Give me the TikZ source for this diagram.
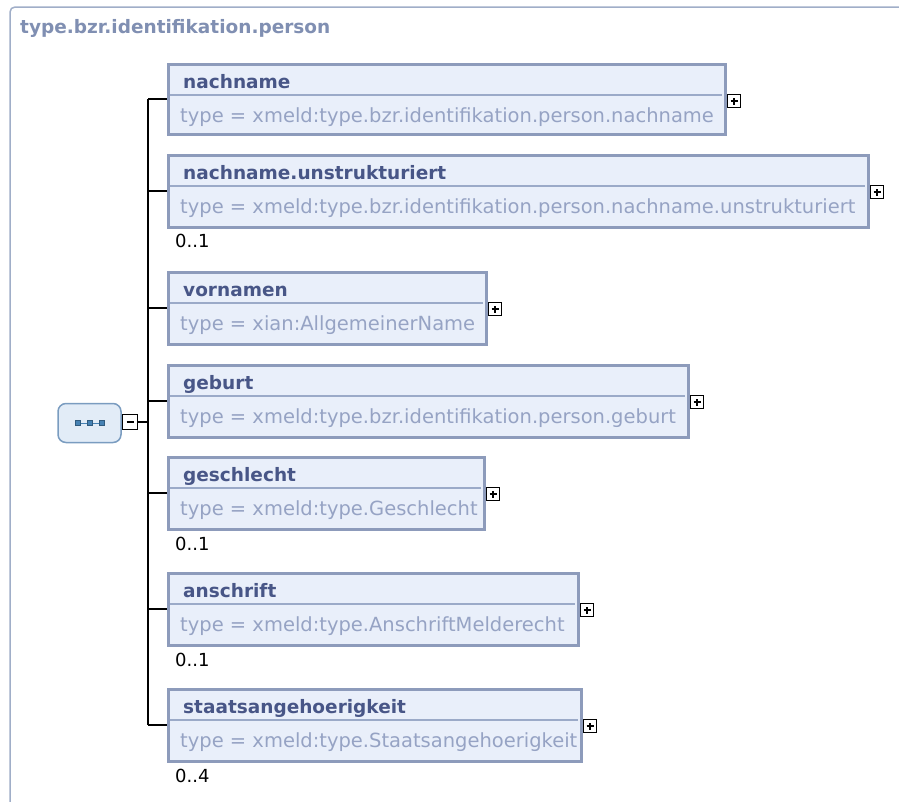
\documentclass[tikz,border=0pt]{standalone}
\usepackage{fontspec}
\setmainfont{DejaVu Sans}
\usetikzlibrary{fit}
\definecolor{framecol}{RGB}{160,174,200}
\definecolor{boxborder}{RGB}{141,155,187}
\definecolor{boxfill}{RGB}{233,239,250}
\definecolor{sepcol}{RGB}{155,170,200}
\definecolor{namecol}{RGB}{72,86,135}
\definecolor{typecol}{RGB}{150,163,196}
\definecolor{titlecol}{RGB}{128,143,178}
\definecolor{seqfill}{RGB}{226,236,247}
\definecolor{seqborder}{RGB}{122,156,192}
\definecolor{seqdot}{RGB}{70,130,180}
\tikzset{
 elembox/.style={draw=boxborder, line width=3pt, fill=boxfill, inner sep=0pt},
 nametext/.style={anchor=base west, inner sep=0pt, text=namecol, font=\fontsize{18.5}{20}\selectfont\bfseries},
 typetext/.style={anchor=base west, inner sep=0pt, text=typecol, font=\fontsize{19.5}{21}\selectfont},
 multtext/.style={anchor=base west, inner sep=0pt, font=\fontsize{18}{20}\selectfont},
 expbox/.style={draw, line width=1.5pt, fill=white, minimum size=13pt, inner sep=0pt},
 conn/.style={line width=2pt, black},
}
% #1 id, #2 top, #3 bottom, #4 right, #5 name, #6 type
\newcommand\xelem[6]{%
  \path (168,#2) coordinate (#1nw) (#4,#3) coordinate (#1se);
  \node[elembox, fit=(#1nw)(#1se)] (#1) {};
  \draw[sepcol, line width=1.5pt] (169.5,{#2+31}) -- ({#4-3},{#2+31});
  \node[nametext] (#1n) at (183,{#2+24}) {#5};
  \node[typetext] (#1t) at (180,{#2+58}) {#6};
  \node[expbox] (#1x) at ({#4+9},{#2+37}) {};
  \draw[line width=1.5pt] ([xshift=-3.5pt]#1x.center) -- ([xshift=3.5pt]#1x.center)
    ([yshift=-3.5pt]#1x.center) -- ([yshift=3.5pt]#1x.center);
  \draw[conn] (tr|-#1.west) -- (#1.west);
}
\begin{document}
\begin{tikzpicture}[x=1pt, y=-1pt]
\useasboundingbox (0,0) rectangle (899,801);
\draw[framecol, line width=1.5pt, rounded corners=5pt] (10,830) -- (10,7) -- (930,7);
\node[anchor=base west, inner sep=0pt, text=titlecol, font=\fontsize{18.5}{20}\selectfont\bfseries] (title) at (20,33) {type.bzr.identifikation.person};
\coordinate (tr) at (148,0);
\xelem{e1}{64}{134}{725}{nachname}{type = xmeld:type.bzr.identifikation.person.nachname}
\xelem{e2}{155}{227}{868}{nachname.unstrukturiert}{type = xmeld:type.bzr.identifikation.person.nachname.unstrukturiert}
\xelem{e3}{272}{344}{486}{vornamen}{type = xian:AllgemeinerName}
\xelem{e4}{365}{437}{688}{geburt}{type = xmeld:type.bzr.identifikation.person.geburt}
\xelem{e5}{457}{529}{484}{geschlecht}{type = xmeld:type.Geschlecht}
\xelem{e6}{573}{645}{578}{anschrift}{type = xmeld:type.AnschriftMelderecht}
\xelem{e7}{689}{761}{581}{staatsangehoerigkeit}{type = xmeld:type.Staatsangehoerigkeit}
\node[multtext] (m2) at (175,247) {0..1};
\node[multtext] (m5) at (175,550) {0..1};
\node[multtext] (m6) at (175,666) {0..1};
\node[multtext] (m7) at (175,782) {0..4};
\draw[conn] (tr|-e1.west) -- (tr|-e7.west);
\node[draw=seqborder, fill=seqfill, rounded corners=8pt, line width=1.5pt, minimum width=63pt, minimum height=39pt] (seq) at (89.5,423) {};
\draw[seqdot, line width=1pt] ([xshift=-12pt]seq.center) -- ([xshift=12pt]seq.center);
\foreach \dx in {-12,0,12} \fill[seqdot, draw=seqdot!70!black, line width=0.5pt] ([xshift=\dx pt]seq.center) +(-2.4,-2.4) rectangle +(2.4,2.4);
\node[expbox, minimum size=15pt] (minus) at (130,422) {};
\draw[line width=1.5pt] ([xshift=-3.5pt]minus.center) -- ([xshift=3.5pt]minus.center);
\draw[conn] (minus.east) -- (tr|-minus.east);
\end{tikzpicture}
\end{document}
